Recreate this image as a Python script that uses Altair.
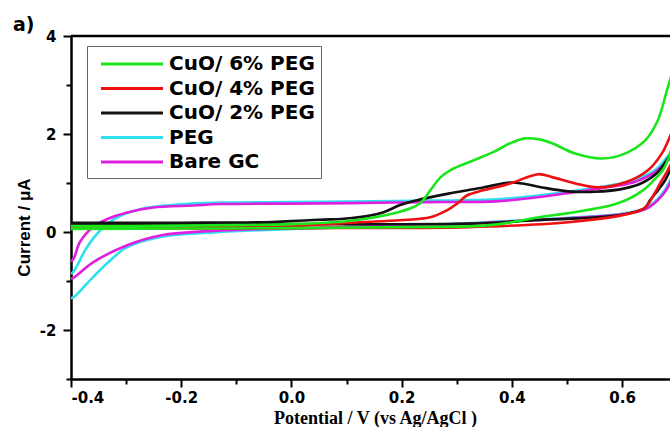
import altair as alt
import pandas as pd

# ---------------- data ----------------
SERIES = ["CuO/ 6% PEG", "CuO/ 4% PEG", "CuO/ 2% PEG", "PEG", "Bare GC"]
COLORS = ["#1be61b", "#ee1010", "#111111", "#2ee0ee", "#e01ee0"]
DRAW_ORDER = ["PEG", "Bare GC", "CuO/ 2% PEG", "CuO/ 4% PEG", "CuO/ 6% PEG"]

# CuO / 6% PEG (green)
g_fwd_x = [-0.4, -0.3, -0.2, -0.1, 0.0, 0.1, 0.166, 0.215, 0.233, 0.252, 0.27, 0.288, 0.33, 0.366, 0.397, 0.424, 0.45, 0.473, 0.515, 0.564, 0.605, 0.642, 0.665, 0.683, 0.7]
g_fwd_y = [0.12, 0.12, 0.13, 0.14, 0.16, 0.22, 0.33, 0.48, 0.58, 0.85, 1.11, 1.26, 1.46, 1.63, 1.81, 1.91, 1.89, 1.81, 1.6, 1.5, 1.6, 1.87, 2.28, 2.95, 3.5]
g_rev_x = [0.7, 0.687, 0.674, 0.663, 0.638, 0.591, 0.5, 0.46, 0.40, 0.35, 0.2, 0.0, -0.2, -0.4]
g_rev_y = [2.3, 1.6, 1.26, 1.12, 0.85, 0.58, 0.38, 0.32, 0.2, 0.13, 0.1, 0.08, 0.07, 0.06]

# CuO / 4% PEG (red)
r_fwd_x = [-0.4, -0.2, 0.0, 0.124, 0.197, 0.252, 0.282, 0.301, 0.319, 0.348, 0.397, 0.448, 0.473, 0.515, 0.556, 0.605, 0.647, 0.672, 0.687, 0.7]
r_fwd_y = [0.1, 0.11, 0.13, 0.2, 0.24, 0.30, 0.44, 0.58, 0.75, 0.85, 0.99, 1.18, 1.12, 0.99, 0.91, 1.01, 1.26, 1.6, 1.95, 2.3]
r_rev_x = [0.7, 0.687, 0.68, 0.669, 0.657, 0.642, 0.611, 0.502, 0.32, 0.0, -0.4]
r_rev_y = [1.7, 1.35, 1.2, 0.99, 0.75, 0.5, 0.37, 0.2, 0.1, 0.08, 0.07]

# CuO / 2% PEG (black)
k_fwd_x = [-0.4, -0.2, -0.05, 0.05, 0.106, 0.166, 0.197, 0.228, 0.288, 0.348, 0.397, 0.419, 0.455, 0.502, 0.551, 0.605, 0.638, 0.663, 0.683, 0.7]
k_fwd_y = [0.19, 0.19, 0.2, 0.25, 0.28, 0.4, 0.55, 0.65, 0.79, 0.91, 1.01, 0.99, 0.91, 0.83, 0.82, 0.89, 1.01, 1.2, 1.5, 1.85]
k_rev_x = [0.7, 0.687, 0.678, 0.665, 0.651, 0.64, 0.593, 0.442, 0.32, 0.0, -0.4]
k_rev_y = [1.5, 1.25, 1.05, 0.85, 0.65, 0.48, 0.34, 0.24, 0.17, 0.16, 0.16]

# PEG (cyan)
c_fwd_x = [-0.4, -0.395, -0.371, -0.347, -0.316, -0.269, -0.208, -0.13, 0.0, 0.106, 0.25, 0.378, 0.5, 0.56, 0.62, 0.651, 0.664, 0.687, 0.7]
c_fwd_y = [-0.85, -0.8, -0.31, 0.03, 0.3, 0.48, 0.56, 0.6, 0.61, 0.62, 0.64, 0.67, 0.82, 0.92, 1.05, 1.2, 1.3, 1.6, 1.8]
c_rev_x = [0.7, 0.687, 0.68, 0.665, 0.645, 0.6, 0.45, 0.3, 0.1, -0.13, -0.238, -0.298, -0.329, -0.36, -0.395, -0.4]
c_rev_y = [1.4, 1.05, 0.9, 0.68, 0.5, 0.37, 0.26, 0.17, 0.1, 0.0, -0.1, -0.31, -0.58, -0.92, -1.33, -1.35]

# Bare GC (magenta)
m_fwd_x = [-0.4, -0.395, -0.384, -0.36, -0.335, -0.298, -0.251, -0.179, -0.13, 0.0, 0.106, 0.25, 0.378, 0.5, 0.56, 0.62, 0.651, 0.664, 0.687, 0.7]
m_fwd_y = [-0.6, -0.54, -0.21, 0.1, 0.26, 0.40, 0.50, 0.54, 0.57, 0.58, 0.59, 0.61, 0.63, 0.79, 0.89, 1.01, 1.16, 1.26, 1.5, 1.7]
m_rev_x = [0.7, 0.687, 0.68, 0.665, 0.645, 0.6, 0.45, 0.3, 0.1, -0.13, -0.238, -0.298, -0.36, -0.395, -0.4]
m_rev_y = [1.3, 1.0, 0.85, 0.65, 0.48, 0.36, 0.25, 0.16, 0.1, 0.03, -0.07, -0.27, -0.62, -0.93, -0.95]

X_TICKS = [-0.4, -0.3, -0.2, -0.1, 0.0, 0.1, 0.2, 0.3, 0.4, 0.5, 0.6]
Y_TICKS = [-3, -2, -1, 0, 1, 2, 3, 4]

curves = {
    "CuO/ 6% PEG": (g_fwd_x + g_rev_x, g_fwd_y + g_rev_y),
    "CuO/ 4% PEG": (r_fwd_x + r_rev_x, r_fwd_y + r_rev_y),
    "CuO/ 2% PEG": (k_fwd_x + k_rev_x, k_fwd_y + k_rev_y),
    "PEG": (c_fwd_x + c_rev_x, c_fwd_y + c_rev_y),
    "Bare GC": (m_fwd_x + m_rev_x, m_fwd_y + m_rev_y),
}
rows = []
for name, (xs, ys) in curves.items():
    for i, (x, y) in enumerate(zip(xs, ys)):
        rows.append({"series": name, "E": x, "I": y, "idx": i})
df = pd.DataFrame(rows)

# ---------------- chart ----------------
W, H = 599, 343

xaxis = alt.Axis(
    values=X_TICKS,
    labelExpr="abs(round(datum.value*10)) % 2 == 0 ? replace(format(datum.value, '.1f'), '\u2212', '-') : ''",
    tickSize={"condition": {"test": "abs(round(datum.value*10)) % 2 == 1", "value": 5}, "value": 8},
    labelPadding=3,
    title="Potential / V (vs Ag/AgCl )",
    titleFont="Liberation Serif",
    titleFontSize=18,
    titleFontWeight="bold",
    titleX=304,
    titleY=44,
    titleBaseline="alphabetic",
    titleColor="black",
)
yaxis = alt.Axis(
    values=Y_TICKS,
    labelExpr="abs(datum.value) % 2 == 0 ? replace(format(datum.value, 'd'), '\u2212', '-') : ''",
    tickSize={"condition": {"test": "abs(datum.value) % 2 == 1", "value": 5}, "value": 8},
    labelPadding=7,
    title="Current / \u03bcA",
    titleFont="Liberation Sans",
    titleFontSize=17,
    titleFontWeight="bold",
    titleX=-38,
    titleY=191,
    titleColor="black",
)

color = alt.Color(
    "series:N",
    scale=alt.Scale(domain=SERIES, range=COLORS),
    legend=alt.Legend(title=None),
)

base = alt.Chart(df).mark_line(strokeWidth=2.6, clip=True, interpolate="catmull-rom").encode(
    x=alt.X("E:Q", scale=alt.Scale(domain=[-0.4, 0.687], nice=False, zero=False), axis=xaxis),
    y=alt.Y("I:Q", scale=alt.Scale(domain=[-3, 4], nice=False, zero=False), axis=yaxis),
    color=color,
    order=alt.Order("idx:Q"),
)

layers = [base.transform_filter(alt.datum.series == s) for s in DRAW_ORDER]

frame_top = alt.Chart(pd.DataFrame({"k": [0]})).mark_rule(color="black", strokeWidth=2.5).encode(
    x=alt.value(0), x2=alt.value(W), y=alt.value(0)
)
panel = alt.Chart(pd.DataFrame({"t": ["a)"]})).mark_text(
    font="DejaVu Sans", fontWeight="bold", fontSize=19, align="left", baseline="alphabetic", color="black"
).encode(text="t:N", x=alt.value(-58), y=alt.value(-5))

chart = alt.layer(*layers, frame_top, panel).properties(
    width=W,
    height=H,
    padding={"left": 71, "top": 36, "right": 0, "bottom": 48},
    autosize=alt.AutoSizeParams(type="none"),
    background="white",
).configure_view(stroke=None).configure_axis(
    domainColor="black",
    domainWidth=2.5,
    tickColor="black",
    tickWidth=2,
    labelFont="DejaVu Sans",
    labelFontWeight="bold",
    labelFontSize=15,
    labelColor="black",
    grid=False,
).configure_legend(
    orient="none",
    legendX=16,
    legendY=10,
    symbolType="M-3,0H3",
    symbolSize=427,
    symbolStrokeWidth=3,
    labelFont="DejaVu Sans",
    labelFontWeight="bold",
    labelFontSize=20,
    labelColor="black",
    labelOffset=25,
    padding=6,
    symbolOffset=27,
    rowPadding=2.5,
    strokeColor="#666666",
    fillColor="white",
    labelLimit=300,
)

chart.save("out.html", embed_options={"renderer": "svg", "actions": False})
